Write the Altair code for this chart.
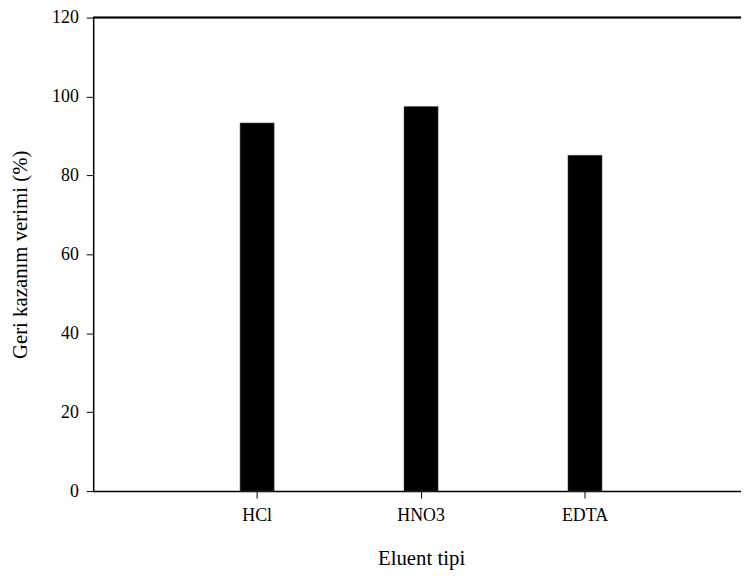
import altair as alt
import pandas as pd

categories = ["HCl", "HNO3", "EDTA"]
values = [93.3, 97.5, 85.1]

df = pd.DataFrame({"Eluent": categories, "Verim": values})

FONT = "Liberation Serif"
W = 654
H = 478

x_enc = alt.X(
    "Eluent:N",
    sort=categories,
    title="Eluent tipi",
    scale=alt.Scale(range=[0, 662], paddingInner=0.792, paddingOuter=0.896),
    axis=alt.Axis(
        labelAngle=0,
        labelFont=FONT,
        labelFontSize=18,
        labelColor="black",
        labelPadding=9,
        tickSize=7,
        tickColor="black",
        tickWidth=1,
        domainColor="black",
        domainWidth=1.5,
        titleFont=FONT,
        titleFontSize=21,
        titleFontWeight="normal",
        titleColor="black",
        titlePadding=23,
        grid=False,
    ),
)

y_enc = alt.Y(
    "Verim:Q",
    title="Geri kazanım verimi (%)",
    scale=alt.Scale(domain=[0, 120], nice=False),
    axis=alt.Axis(
        values=[0, 20, 40, 60, 80, 100, 120],
        labelFont=FONT,
        labelFontSize=18,
        labelColor="black",
        labelPadding=8,
        tickSize=7,
        tickColor="black",
        tickWidth=1,
        domainColor="black",
        domainWidth=1.5,
        titleFont=FONT,
        titleFontSize=21,
        titleFontWeight="normal",
        titleColor="black",
        titlePadding=21,
        grid=False,
    ),
)

bars = alt.Chart(df).mark_bar(color="black", stroke="#555555", strokeWidth=0.5).encode(
    x=x_enc, y=y_enc
)

top_rule = alt.Chart(df).mark_rule(color="black", strokeWidth=1.5).encode(
    x=alt.value(0), x2=alt.value(662), y=alt.value(0)
)

chart = (
    alt.layer(bars, top_rule)
    .properties(
        width=W,
        height=H,
        autosize=alt.AutoSizeParams(type="none"),
        padding={"left": 86, "top": 7, "right": 0, "bottom": 80},
    )
    .configure_view(stroke=None)
    .configure(background="white")
)

chart.save("out.html", embed_options={"renderer": "svg", "actions": False})
